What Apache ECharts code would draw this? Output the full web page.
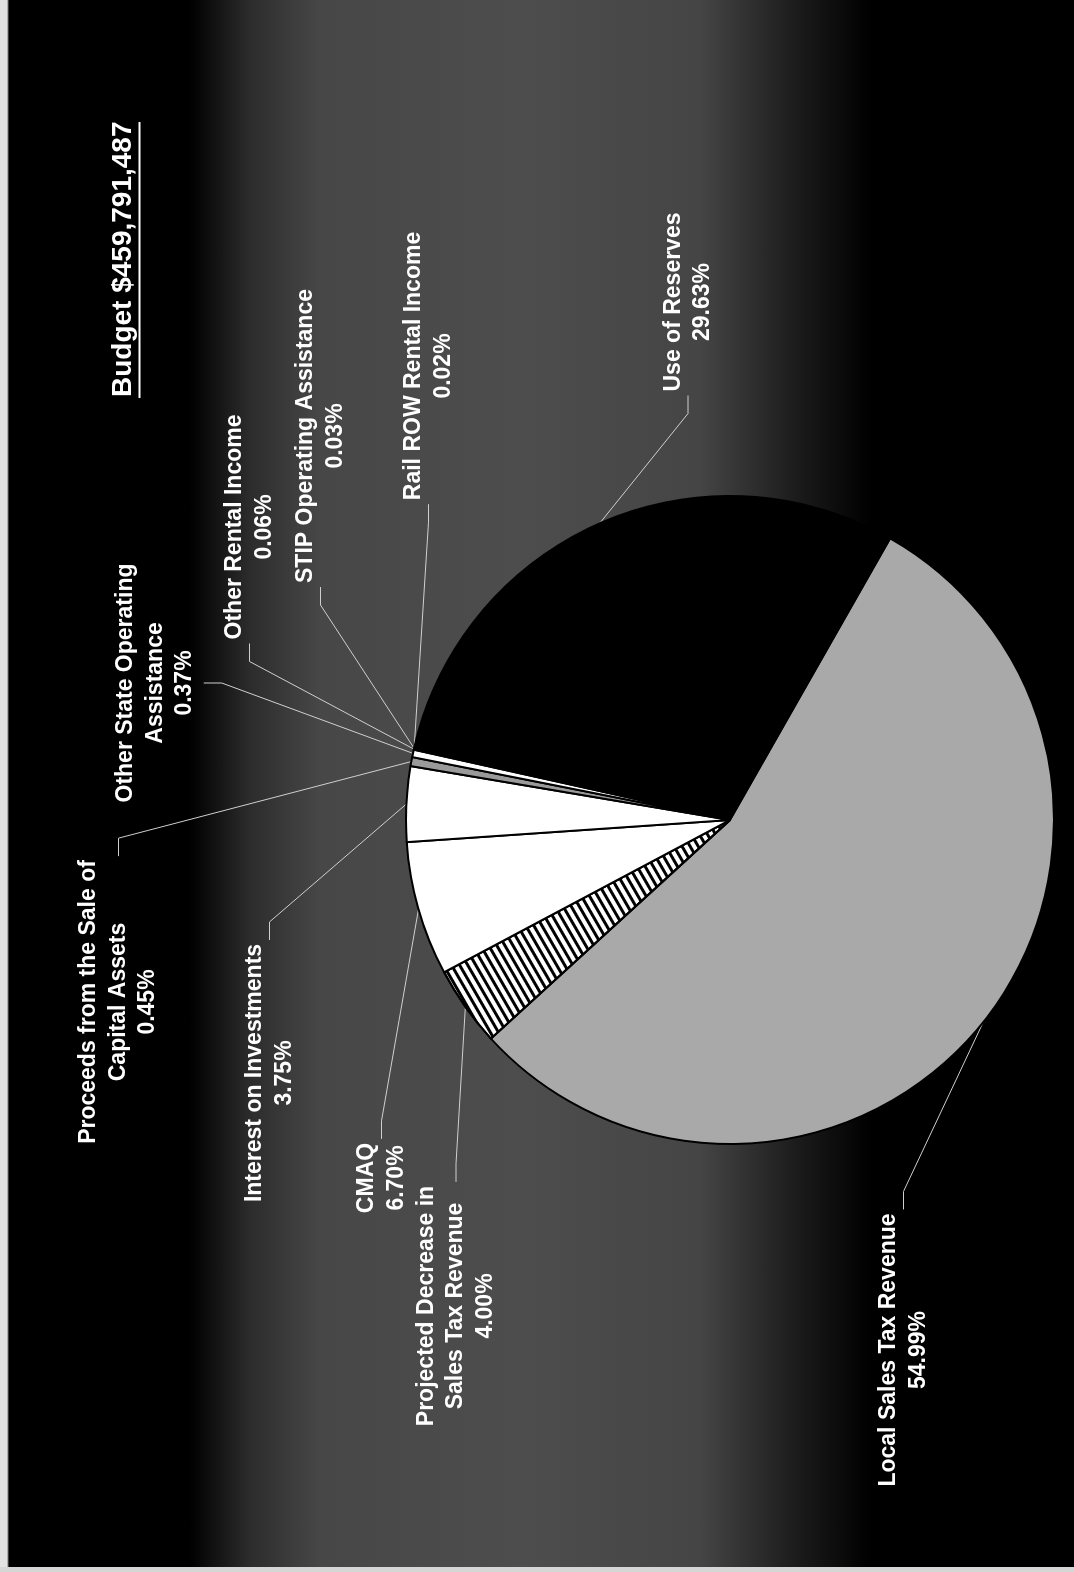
<!DOCTYPE html>
<html>
<head>
<meta charset="utf-8">
<script src="https://cdn.jsdelivr.net/npm/echarts@6/dist/echarts.min.js"></script>
<style>
  html, body { margin: 0; padding: 0; width: 1074px; height: 1572px; overflow: hidden; }
  body {
    background: linear-gradient(to right,
      #e2e2e2 0px, #e2e2e2 7px, #7a7a7a 8px, #000 9px,
      #000 190px, #2c2c2c 250px, #474747 320px, #4d4d4d 520px,
      #454545 700px, #1a1a1a 800px, #000 870px, #000 100%);
  }
  /* the chart is laid out landscape and turned a quarter turn */
  #chart {
    position: absolute; left: 0; top: 0;
    width: 1572px; height: 1074px;
    transform-origin: 0 0;
    transform: translate(0px, 1572px) rotate(-90deg);
  }
  #edge { position: absolute; left: 0; bottom: 0; width: 1074px; height: 5px; background: #d6d6d6; }
</style>
</head>
<body>
<div id="chart"></div>
<div id="edge"></div>
<script>
// Revenue sources, in clockwise order around the pie
const categories = [
  'Local Sales Tax Revenue',
  'Projected Decrease in\nSales Tax Revenue',
  'CMAQ',
  'Interest on Investments',
  'Proceeds from the Sale of\nCapital Assets',
  'Other State Operating\nAssistance',
  'Other Rental Income',
  'STIP Operating Assistance',
  'Rail ROW Rental Income',
  'Use of Reserves'
];
// Share of the total budget, in percent
const shares = [54.99, 4.00, 6.70, 3.75, 0.45, 0.37, 0.06, 0.03, 0.02, 29.63];
const budgetTitle = 'Budget $459,791,487';

// Slice fills
const sliceColors = ['#a9a9a9', '#ffffff', '#ffffff', '#ffffff', '#9a9a9a',
                     '#ffffff', '#ffffff', '#ffffff', '#ffffff', '#000000'];
const hatchedIndex = 1;

// Label block centres (chart space) and the side the leader line meets
const labelCenters = [[222, 903.5], [266, 456], [394, 381.5], [499, 269.5], [570, 118.5],
                      [889, 155.5], [1045, 249.5], [1136, 320.5], [1206, 428.5], [1270, 688]];
const labelSides = ['right', 'right', 'right', 'right', 'right',
                    'bottom', 'left', 'left', 'left', 'left'];

const FONT = '"Liberation Sans", Arial, sans-serif';

const chart = echarts.init(document.getElementById('chart'), null, {
  renderer: 'canvas', width: 1572, height: 1074
});

const pieData = categories.map((name, i) => {
  const item = { name: name, value: shares[i], itemStyle: { color: sliceColors[i] } };
  if (i === hatchedIndex) {
    item.itemStyle.decal = {
      symbol: 'rect', symbolSize: 1,
      dashArrayX: [1, 0], dashArrayY: [3, 4],
      rotation: -Math.PI / 6, color: '#000'
    };
  }
  return item;
});

chart.setOption({
  backgroundColor: 'transparent',
  animation: false,
  title: {
    text: budgetTitle,
    left: 1175, top: 109, padding: 0,
    textStyle: { color: '#ffffff', fontFamily: FONT, fontSize: 28, fontWeight: 'bold' }
  },
  graphic: [{
    type: 'line', silent: true,
    shape: { x1: 1174, y1: 139.5, x2: 1450, y2: 139.5 },
    style: { stroke: '#ffffff', lineWidth: 2 }
  }],
  series: [{
    type: 'pie',
    center: [752, 730],
    radius: 324,
    startAngle: -29.6,
    clockwise: true,
    avoidLabelOverlap: false,
    data: pieData,
    itemStyle: { borderColor: '#000', borderWidth: 2 },
    emphasis: { disabled: true },
    label: {
      show: true, position: 'outside',
      color: '#ffffff', fontFamily: FONT, fontSize: 23, fontWeight: 'bold',
      lineHeight: 29.5, align: 'center', overflow: 'none',
      textBorderWidth: 0,
      formatter: p => p.name + '\n' + p.value.toFixed(2) + '%'
    },
    labelLine: {
      show: true, length: 10, length2: 10, smooth: false,
      lineStyle: { color: '#cfcfcf', width: 1 }
    },
    labelLayout: function (p) {
      const i = p.dataIndex;
      const c = labelCenters[i];
      const w = p.labelRect.width, h = p.labelRect.height;
      const gap = 4, stub = 18;
      let end, elbow;
      if (labelSides[i] === 'right') {
        end = [c[0] + w / 2 + gap, c[1]]; elbow = [end[0] + stub, c[1]];
      } else if (labelSides[i] === 'left') {
        end = [c[0] - w / 2 - gap, c[1]]; elbow = [end[0] - stub, c[1]];
      } else {
        end = [c[0], c[1] + h / 2 + gap]; elbow = [c[0], end[1] + stub];
      }
      const start = (p.labelLinePoints && p.labelLinePoints[0]) || elbow;
      return {
        x: c[0], y: c[1], align: 'center', verticalAlign: 'middle',
        labelLinePoints: [start, elbow, end]
      };
    }
  }]
});
</script>
</body>
</html>
